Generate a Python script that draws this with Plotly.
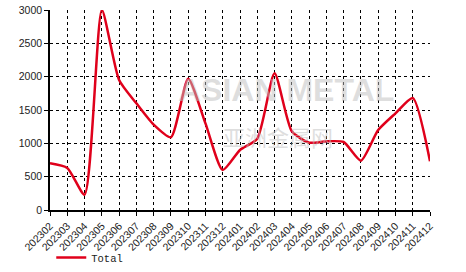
import plotly.graph_objects as go

months = ["202302","202303","202304","202305","202306","202307","202308","202309",
          "202310","202311","202312","202401","202402","202403","202404","202405",
          "202406","202407","202408","202409","202410","202411","202412"]
total = [700, 630, 230, 3000, 1950, 1600, 1280, 1090, 1970, 1300, 600, 900, 1070,
         2050, 1180, 1010, 1030, 1020, 740, 1200, 1450, 1680, 730]
y_ticks = [0, 500, 1000, 1500, 2000, 2500, 3000]

fig = go.Figure()
fig.add_trace(go.Scatter(
    x=months, y=total, mode="lines", name="Total",
    line=dict(color="#E0001B", width=2.5, shape="spline", smoothing=0.6),
))

axis_common = dict(
    showgrid=True, gridcolor="black", griddash="dot", gridwidth=1,
    showline=True, linecolor="black", linewidth=1.5,
    ticks="outside", ticklen=4, tickcolor="black",
    tickfont=dict(family="Liberation Sans, Arial", size=10.5, color="#222"),
    zeroline=False, automargin=False,
)

fig.update_xaxes(**axis_common, tickangle=-45, range=[0, 22],
                 tickmode="array", tickvals=months, ticktext=months)
fig.update_yaxes(**axis_common, range=[0, 3000], tickvals=y_ticks)

# watermark
fig.add_annotation(text="<b>ASIAN METAL</b>", x=0.62, y=0.60, xref="paper", yref="paper",
                   showarrow=False, font=dict(family="Liberation Sans", size=32, color="rgba(190,190,190,0.5)"))
fig.add_annotation(text="亚洲金属网", x=0.60, y=0.37, xref="paper", yref="paper",
                   showarrow=False, font=dict(family="Noto Sans CJK SC", size=22, color="rgba(190,190,190,0.5)"))

fig.update_layout(
    width=466, height=272,
    margin=dict(l=50, r=36, t=10, b=62),
    plot_bgcolor="white", paper_bgcolor="white",
    showlegend=True,
    legend=dict(orientation="h", xref="container", yref="container", x=0.11, y=0.0,
                xanchor="left", yanchor="bottom",
                font=dict(family="Liberation Mono, Courier New", size=10.5, color="#222"),
                itemwidth=30, bgcolor="rgba(0,0,0,0)"),
)

fig.write_html("out.html")
